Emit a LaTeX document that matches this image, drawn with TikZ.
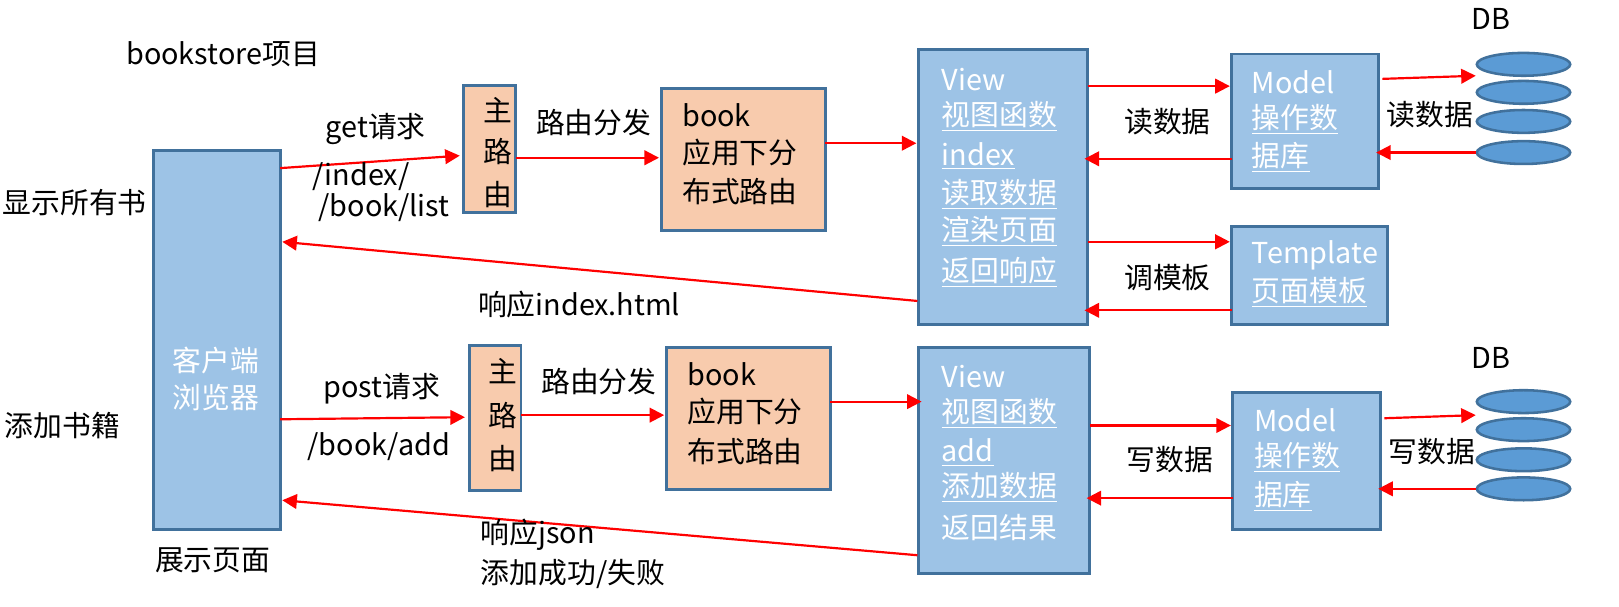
\documentclass[tikz,border=0pt]{standalone}
\usepackage{fontspec}
\setmainfont{Noto Sans CJK SC}
\usetikzlibrary{arrows.meta,shapes.geometric}
\definecolor{bfill}{HTML}{9DC3E6}
\definecolor{bdraw}{HTML}{41719C}
\definecolor{ofill}{HTML}{F8CBAD}
\definecolor{efill}{HTML}{5B9BD5}
\newcommand{\ul}[1]{\underline{#1}}
\begin{document}
\begin{tikzpicture}[x=0.02cm,y=-0.02cm,
  every node/.style={font=\fontsize{15.8}{18}\selectfont},
  bbox/.style={draw=bdraw,line width=1.6pt,fill=bfill},
  obox/.style={draw=bdraw,line width=1.6pt,fill=ofill},
  db/.style={draw=bdraw,line width=1.4pt,fill=efill,ellipse,minimum width=90*0.02cm,minimum height=22*0.02cm,inner sep=0},
  wt/.style={text=white,anchor=west,inner sep=0},
  bt/.style={anchor=west,inner sep=0},
  lbl/.style={inner sep=0},
  arr/.style={red,line width=1.2pt,-{Triangle[length=8pt,width=8pt]}}]
\useasboundingbox (0,0) rectangle (1560,584);
% texts
\node[lbl] (t0) at (215,52) {bookstore项目};
\node[lbl] (t1) at (72,195) {显示所有书};
\node[lbl] (t2) at (60,410) {添加书籍};
\node[lbl] (t3) at (205,540) {展示页面};
% client
\draw[bbox] (148,145) rectangle (270,510);
\node[lbl,text=white,align=center] (cl) at (208,365) {客户端\\[2pt]浏览器};
\coordinate (c1) at (270,162); \coordinate (c2) at (272,233);
\coordinate (c3) at (270,404); \coordinate (c4) at (272,482);
% top row
\draw[obox] (447,82) rectangle (497,205);
\node[lbl] (r1a) at (480,106) {主}; \node[lbl] (r1b) at (480,146) {路}; \node[lbl] (r1c) at (480,187) {由};
\draw[obox] (637,85) rectangle (795,222);
\node[bt] (b1a) at (657,111) {book}; \node[bt] (b1b) at (657,147) {应用下分}; \node[bt] (b1c) at (657,185) {布式路由};
\draw[bbox] (885,48) rectangle (1048,313);
\node[wt] (v1a) at (907,77) {View};
\node[wt] (v1b) at (907,112) {\ul{视图函数}};
\node[wt] (v1c) at (907,150) {\ul{index}};
\node[wt] (v1d) at (907,187) {\ul{读取数据}};
\node[wt] (v1e) at (907,223) {\ul{渲染页面}};
\node[wt] (v1f) at (907,262) {\ul{返回响应}};
\draw[bbox] (1187,52) rectangle (1328,182);
\node[wt] (m1a) at (1206,79) {Model}; \node[wt] (m1b) at (1206,115) {\ul{操作数}}; \node[wt] (m1c) at (1206,152) {\ul{据库}};
\draw[bbox] (1187,218) rectangle (1337,313);
\node[wt] (tp1) at (1206,246) {Template}; \node[wt] (tp2) at (1206,282) {\ul{页面模板}};
\node[lbl] (db1) at (1437,18) {DB};
\node[db] (e1) at (1468,62) {}; \node[db] (e2) at (1468,89) {}; \node[db] (e3) at (1468,117) {}; \node[db] (e4) at (1468,147) {};
% top arrows
\draw[arr] (c1) -- (443,150);
\node[lbl] at (362,124) {get请求};
\node[lbl] at (348,170) {/index/};
\node[lbl] at (370,200) {/book/list};
\draw[arr] (497,152) -- (635,152);
\node[lbl] at (572,118) {路由分发};
\draw[arr] (795,138) -- (883,138);
\draw[arr] (1048,83) -- (1185,83);
\draw[arr] (1187,153) -- (1045,153);
\node[lbl] at (1125,117) {读数据};
\draw[arr] (1048,233) -- (1185,233);
\draw[arr] (1187,299) -- (1045,299);
\node[lbl] at (1125,267) {调模板};
\draw[arr] (1332,76) -- (1422,73);
\draw[arr] (e4.west) -- (1326,147);
\node[lbl] at (1378,110) {读数据};
\draw[arr] (884,290) -- (c2);
\node[lbl] at (558,293) {响应index.html};
% bottom row
\draw[obox] (452,333) rectangle (502,473);
\node[lbl] (r2a) at (485,358) {主}; \node[lbl] (r2b) at (485,400) {路}; \node[lbl] (r2c) at (485,442) {由};
\draw[obox] (642,335) rectangle (800,472);
\node[bt] (b2a) at (662,361) {book}; \node[bt] (b2b) at (662,397) {应用下分}; \node[bt] (b2c) at (662,435) {布式路由};
\draw[bbox] (885,335) rectangle (1050,553);
\node[wt] (v2a) at (907,363) {View};
\node[wt] (v2b) at (907,398) {\ul{视图函数}};
\node[wt] (v2c) at (907,436) {\ul{add}};
\node[wt] (v2d) at (907,470) {\ul{添加数据}};
\node[wt] (v2e) at (907,508) {返回结果};
\draw[bbox] (1188,378) rectangle (1330,510);
\node[wt] (m2a) at (1208,405) {Model}; \node[wt] (m2b) at (1208,441) {\ul{操作数}}; \node[wt] (m2c) at (1208,478) {\ul{据库}};
\node[lbl] (db2) at (1437,345) {DB};
\node[db] (f1) at (1468,387) {}; \node[db] (f2) at (1468,414) {}; \node[db] (f3) at (1468,443) {}; \node[db] (f4) at (1468,471) {};
\draw[arr] (c3) -- (448,402);
\node[lbl] at (368,375) {post请求};
\node[lbl] at (365,430) {/book/add};
\draw[arr] (502,400) -- (640,400);
\node[lbl] at (577,368) {路由分发};
\draw[arr] (800,387) -- (888,387);
\draw[arr] (1050,410) -- (1186,410);
\draw[arr] (1188,480) -- (1047,480);
\node[lbl] at (1127,443) {写数据};
\draw[arr] (1334,403) -- (1422,400);
\draw[arr] (f4.west) -- (1328,471);
\node[lbl] at (1380,435) {写数据};
\draw[arr] (884,535) -- (c4);
\node[lbl] at (518,515) {响应json};
\node[lbl] at (552,553) {添加成功/失败};
\end{tikzpicture}
\end{document}
